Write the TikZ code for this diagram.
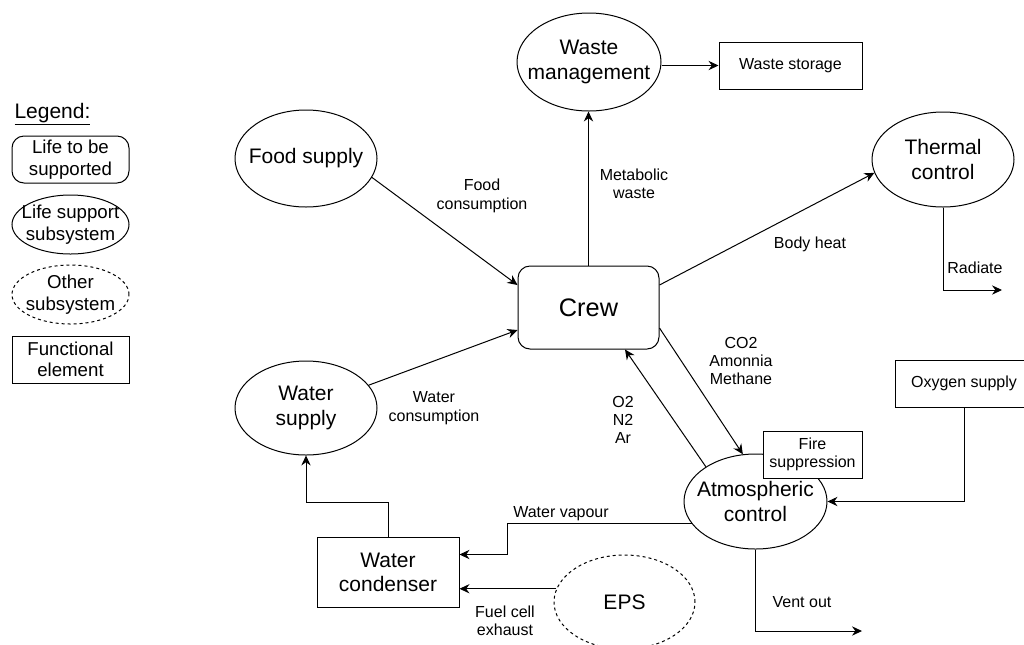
\documentclass[tikz,border=0pt]{standalone}
\usepackage{fontspec}
\setmainfont{Liberation Sans}
\usetikzlibrary{shapes.geometric,arrows.meta,calc}
\begin{document}
\begin{tikzpicture}[x=0.75pt,y=-0.75pt,
  base/.style={draw=black, line width=0.75pt, inner sep=0pt, align=center, text=black},
  boxsz/.style 2 args={minimum width=#1*0.75pt, minimum height=#2*0.75pt},
  life/.style={base, rectangle, rounded corners=9pt, fill=white},
  lss/.style={base, ellipse, fill=white},
  other/.style={base, ellipse, dash pattern=on 2.25pt off 2.25pt},
  func/.style={base, rectangle, fill=white},
  big/.style={font=\fontsize{15.75}{18.1}\selectfont},
  small/.style={font=\fontsize{12}{13.8}\selectfont},
  legendtxt/.style={font=\fontsize{14}{16.1}\selectfont},
  % text of an ellipse is set apart so that it does not widen the outline
  inside/.style={label={[inner sep=0pt, align=center, text=black, big]center:{#1}}},
  insideleg/.style={label={[inner sep=0pt, align=center, text=black, legendtxt]center:{#1}}},
  lbl/.style={inner sep=0pt, align=center, small},
  flow/.style={line width=0.75pt, -{Stealth[length=7.5pt, width=7pt, inset=2.5pt]}}
]
\useasboundingbox (0,0) rectangle (1024,644);

% ---- legend ----
\node[inner sep=0pt, big] (legtitle) at (52.5,114) {\underline{Legend:}};
\node[life, boxsz={117}{47}, legendtxt] (leglife) at (70.5,159.5) {Life to be\\supported};
\node[lss, boxsz={117}{59}, insideleg={Life support\\subsystem}] (leglss) at (70.5,224.5) {};
\node[other, boxsz={117}{59}, insideleg={Other\\subsystem}] (legother) at (70.5,294.5) {};
\node[func, boxsz={117}{47}, legendtxt] (legfunc) at (70.5,359.5) {Functional\\element};

% ---- main nodes ----
\node[life, boxsz={141}{83}, font=\fontsize{19}{22}\selectfont] (crew) at (588.5,307.5) {Crew};
\node[lss, boxsz={144}{98}, inside={Waste\\management}] (waste) at (589,62) {};
\node[func, boxsz={143}{47}, small] (storage) at (790.5,65.5) {Waste storage};
\node[lss, boxsz={142}{97}, inside={Food supply}] (food) at (306,158.5) {};
\node[lss, boxsz={142}{94}, inside={Water\\supply}] (wsup) at (306,408) {};
\node[lss, boxsz={142}{95}, inside={Thermal\\control}] (thermal) at (943,159.5) {};
\node[lss, boxsz={143}{95}, inside={Atmospheric\\control}] (atm) at (755.5,501.5) {};
\node[func, boxsz={138}{47}, small] (oxy) at (964,383.5) {Oxygen supply};
\node[func, boxsz={142}{70}, big] (cond) at (388,572) {Water\\condenser};
\node[other, boxsz={141}{94}, inside={EPS}] (eps) at (624.5,602) {};

% ---- helper points ----
\coordinate (crewInFood) at ($(crew.west)+(0,-22.5)$);
\coordinate (crewInWater) at ($(crew.west)+(0,22.5)$);
\coordinate (crewOutHeat) at ($(crew.east)+(0,-22.5)$);
\coordinate (crewOutGas) at ($(crew.east)+(0,20.5)$);
\coordinate (crewInAir) at ($(crew.south)+(36.5,0)$);
\coordinate (condInVap) at ($(cond.east)+(0,-17.5)$);
\coordinate (vapBend) at (507,0);
\coordinate (condBend) at (0,502);
\coordinate (radiateEnd) at (1002,290);
\coordinate (ventEnd) at (862,631);

% ---- flows ----
\draw[flow] (food.-16) -- (crewInFood);
\draw[flow] (wsup.20.7) -- (crewInWater);
\draw[flow] (crew.north) -- (crew.north |- waste.south);
\draw[flow] (waste.east |- storage.west) -- (storage.west);
\draw[flow] (crewOutHeat) -- (thermal.191.4);
\draw[flow] (thermal.south) |- (radiateEnd);
\draw[flow] (crewOutGas) -- (atm.105.3);
\draw[flow] (atm.145.7) -- (crewInAir);
\draw[flow] (oxy.south) |- (atm.east);
\draw[flow] (atm.south) |- (ventEnd);
\draw[flow] (atm.199.7) -- (atm.199.7 -| vapBend) |- (condInVap);
\draw[flow] (eps.169) -- (eps.169 -| cond.east);
\draw[flow] (cond.north) -- (cond.north |- condBend) -| (wsup.south);

% fire suppression box sits over the atmospheric control outline
\node[func, boxsz={99}{47}, small] (fire) at (812.5,454.5) {Fire\\suppression};

% ---- flow labels ----
\node[lbl] (lfood) at (482,196) {Food\\consumption};
\node[lbl] (lmeta) at (634,184) {Metabolic\\waste};
\node[lbl] (lheat) at (810,244) {Body heat};
\node[lbl] (lrad) at (975,268) {Radiate};
\node[lbl] (lgas) at (741,361) {CO2\\Amonnia\\Methane};
\node[lbl] (lair) at (623,420) {O2\\N2\\Ar};
\node[lbl] (lwater) at (434,408) {Water\\consumption};
\node[lbl] (lvap) at (561,514) {Water vapour};
\node[lbl] (lfuel) at (505,621) {Fuel cell\\exhaust};
\node[lbl] (lvent) at (802,602) {Vent out};
\end{tikzpicture}
\end{document}
